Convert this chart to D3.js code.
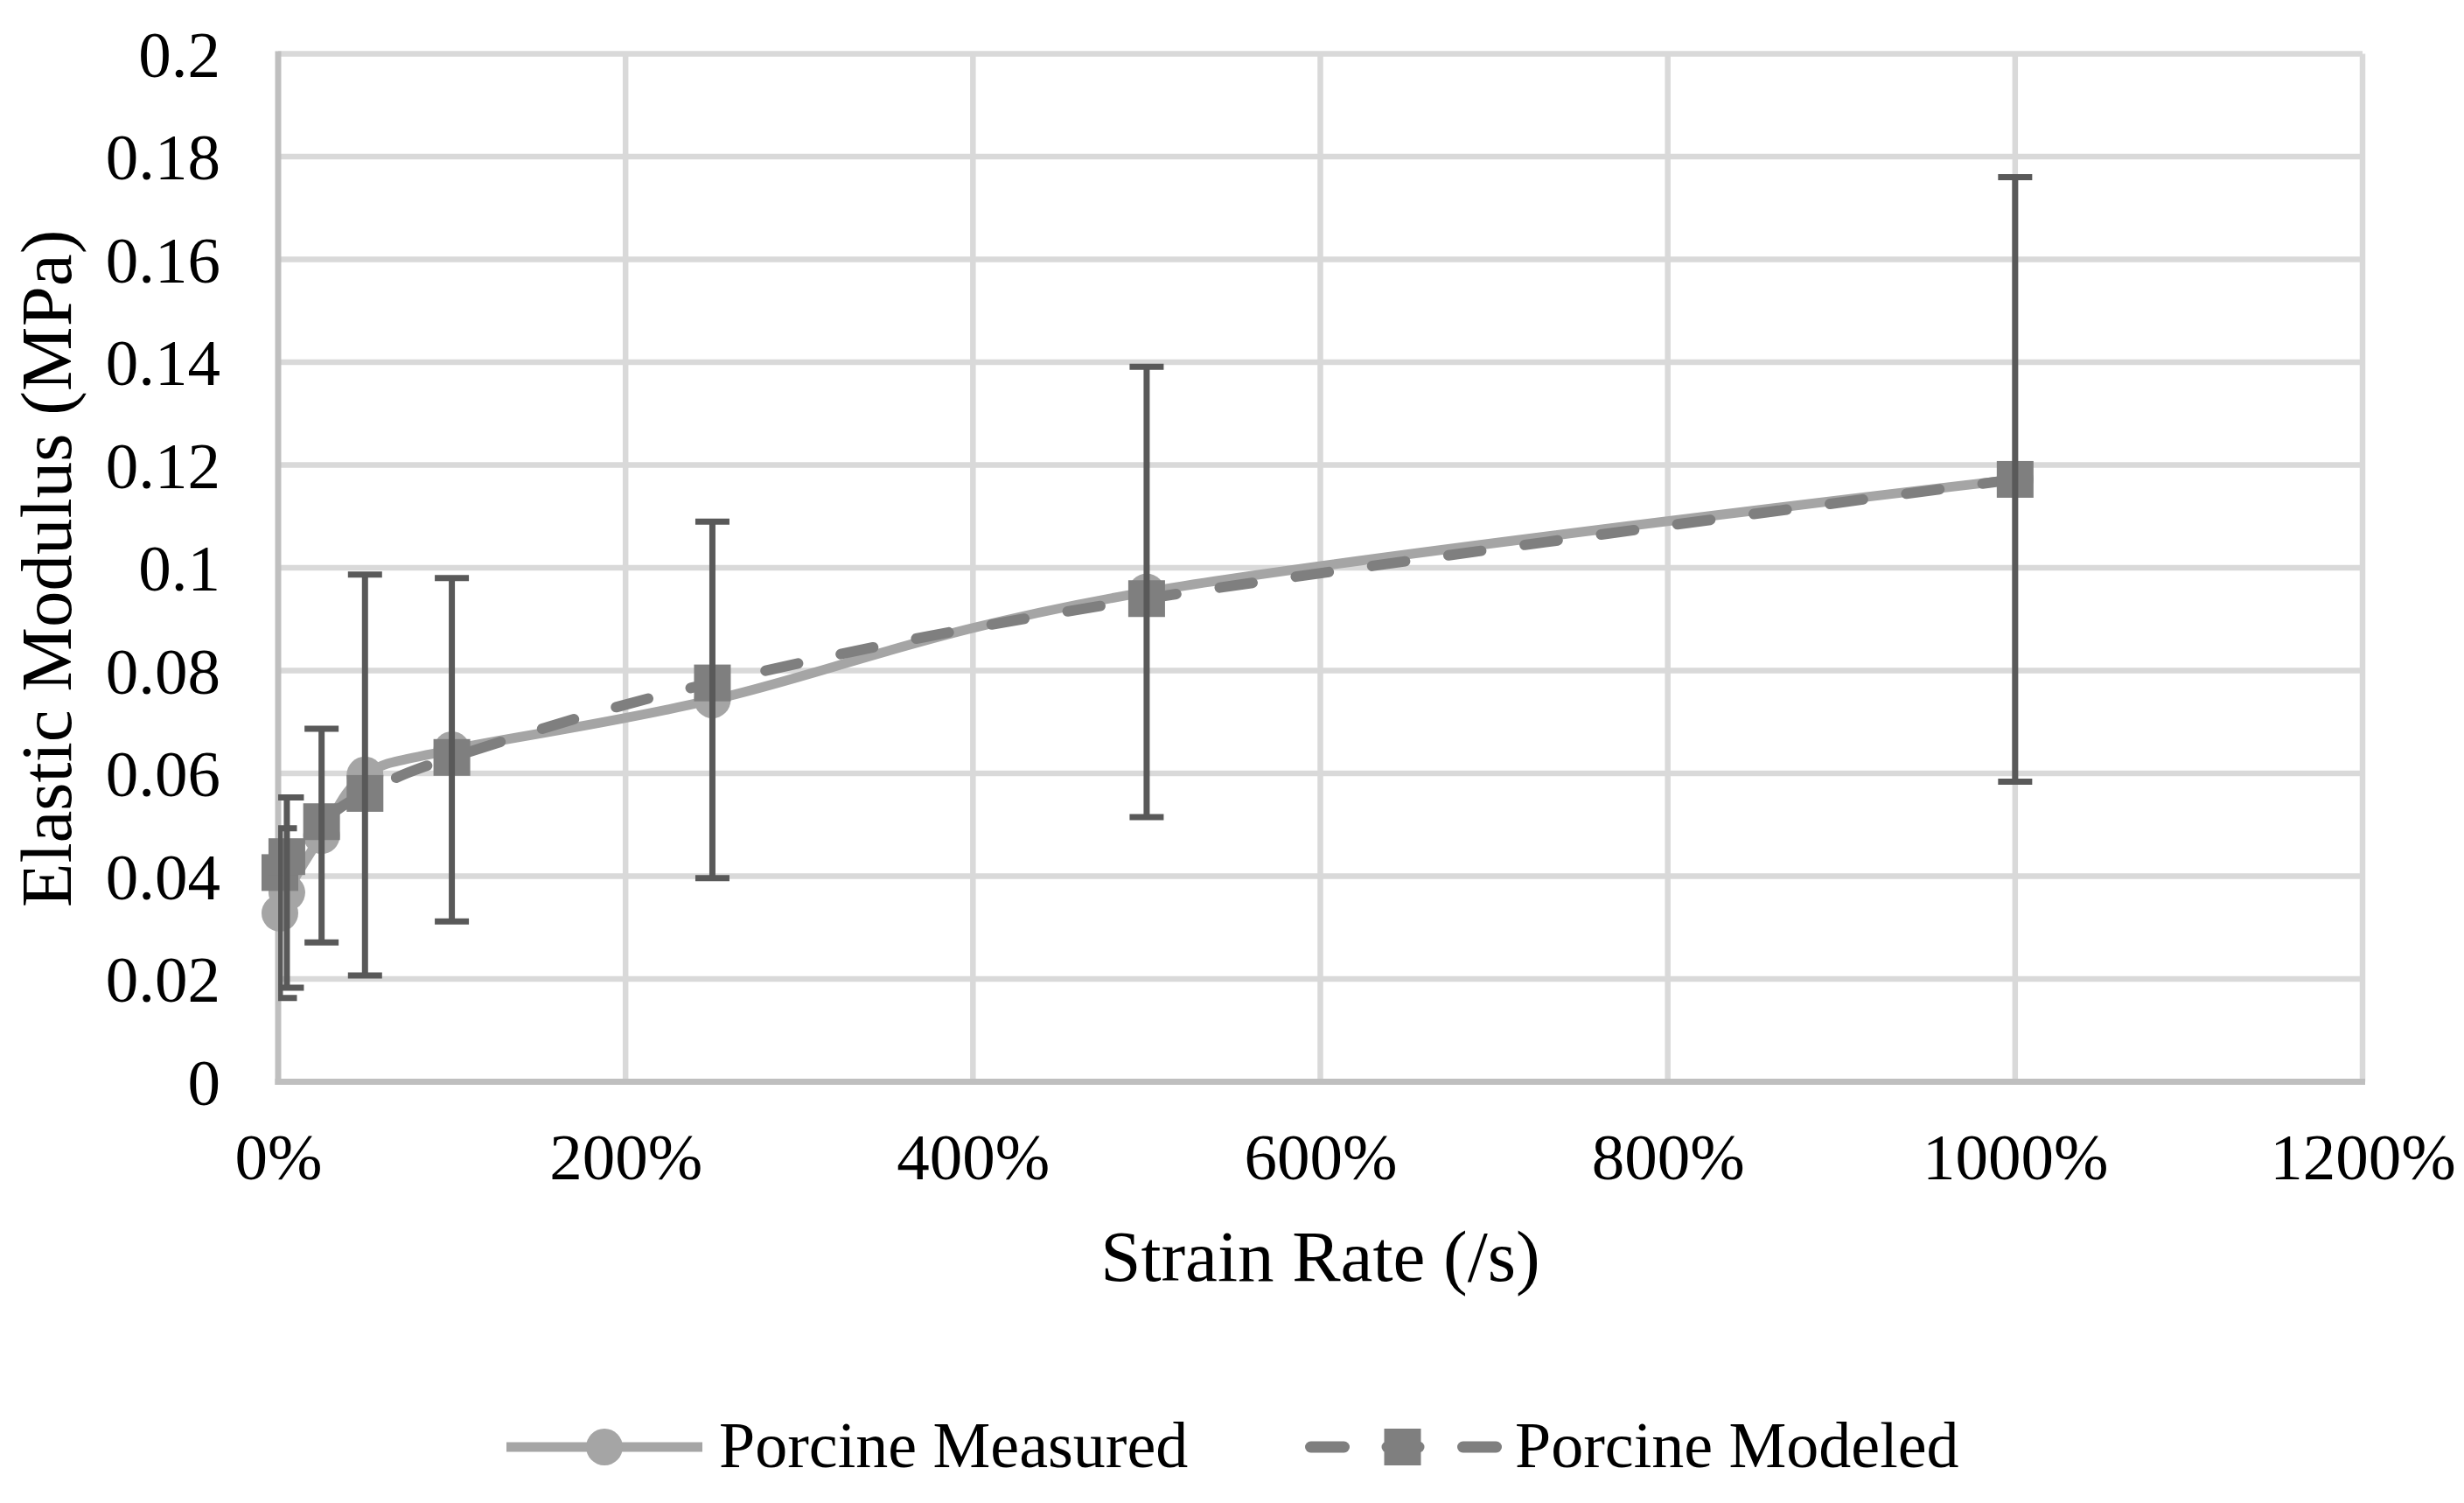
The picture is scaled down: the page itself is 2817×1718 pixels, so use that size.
<!DOCTYPE html>
<html>
<head>
<meta charset="utf-8">
<script src="https://cdn.jsdelivr.net/npm/d3@7"></script>
<style>
    body { margin: 0; background: #fff; }
    text { font-family: "Liberation Serif", "Times New Roman", serif; fill: #000; }
</style>
</head>
<body>
<svg id="chart" width="2817" height="1718"></svg>
<script>
// strain rate in percent (/s * 100)
const strainRates = [1, 5, 25, 50, 100, 250, 500, 1000];
const measuredValues = [0.0328, 0.0368, 0.0479, 0.0597, 0.0646, 0.0743, 0.0953, 0.1172];
const measuredErrors = [0.0165, 0.0185, 0.0208, 0.0390, 0.0334, 0.0347, 0.0438, 0.0588];
const modeledValues = [0.0407, 0.0438, 0.0506, 0.0561, 0.0631, 0.0776, 0.0940, 0.1172];
const xTicks = [0, 200, 400, 600, 800, 1000, 1200];
const yTicks = [0, 0.02, 0.04, 0.06, 0.08, 0.1, 0.12, 0.14, 0.16, 0.18, 0.2];
const seriesNames = ["Porcine Measured", "Porcine Modeled"];

const svg = d3.select("#chart");
const width = +svg.attr("width");
const height = +svg.attr("height");

const margin = { top: 61.5, right: 116, bottom: 481.5, left: 318 };
const innerWidth = width - margin.left - margin.right;
const innerHeight = height - margin.top - margin.bottom;

const x = d3.scaleLinear().domain([0, 1200]).range([0, innerWidth]);
const y = d3.scaleLinear().domain([0, 0.2]).range([innerHeight, 0]);

const g = svg.append("g").attr("transform", `translate(${margin.left},${margin.top})`);

svg.append("defs").append("clipPath").attr("id", "plotClip")
    .append("rect").attr("x", margin.left).attr("y", 0).attr("width", innerWidth + 10).attr("height", height);

// gridlines
g.selectAll(".hgrid").data(yTicks.slice(1)).enter().append("line")
    .attr("x1", 0).attr("x2", innerWidth)
    .attr("y1", d => y(d)).attr("y2", d => y(d))
    .attr("stroke", "#d9d9d9").attr("stroke-width", 6.5);

g.selectAll(".vgrid").data(xTicks.slice(1)).enter().append("line")
    .attr("x1", d => x(d)).attr("x2", d => x(d))
    .attr("y1", 0).attr("y2", innerHeight)
    .attr("stroke", "#d9d9d9").attr("stroke-width", 6.5);

// axis lines
g.append("line").attr("x1", 0).attr("x2", 0).attr("y1", -3).attr("y2", innerHeight + 3.5)
    .attr("stroke", "#bfbfbf").attr("stroke-width", 7);
g.append("line").attr("x1", -3.5).attr("x2", innerWidth + 3).attr("y1", innerHeight).attr("y2", innerHeight)
    .attr("stroke", "#bfbfbf").attr("stroke-width", 7);

// tick labels
const xAxis = d3.axisBottom(x).tickValues(xTicks).tickSize(0).tickPadding(0).tickFormat(d => d + "%");
const yAxis = d3.axisLeft(y).tickValues(yTicks).tickSize(0).tickPadding(0).tickFormat(d => +d.toFixed(2));

const xAxisG = g.append("g").attr("transform", `translate(0,${innerHeight})`).call(xAxis)
    .attr("font-size", 75).attr("font-family", "Liberation Serif");
xAxisG.select(".domain").remove();
xAxisG.selectAll("text").attr("fill", "#000").attr("dy", null).attr("y", 111.5);

const yAxisG = g.append("g").call(yAxis)
    .attr("font-size", 75).attr("font-family", "Liberation Serif");
yAxisG.select(".domain").remove();
yAxisG.selectAll("text").attr("fill", "#000").attr("x", -66).attr("dy", "0.34em");

// axis titles
svg.append("text")
    .attr("x", margin.left + innerWidth / 2).attr("y", 1464)
    .attr("text-anchor", "middle").attr("font-size", 83)
    .text("Strain Rate (/s)");

svg.append("text")
    .attr("transform", "translate(81,650) rotate(-90)")
    .attr("text-anchor", "middle").attr("font-size", 83)
    .text("Elastic Modulus (MPa)");

const measuredData = strainRates.map((r, i) => ({ x: r, y: measuredValues[i], err: measuredErrors[i] }));
const modeledData = strainRates.map((r, i) => ({ x: r, y: modeledValues[i] }));

// error bars on measured series
const errG = svg.append("g").attr("clip-path", "url(#plotClip)")
    .append("g").attr("transform", `translate(${margin.left},${margin.top})`);
const capHalf = 19.5;
errG.selectAll(".stem").data(measuredData).enter().append("line")
    .attr("x1", d => x(d.x)).attr("x2", d => x(d.x))
    .attr("y1", d => y(d.y + d.err)).attr("y2", d => y(d.y - d.err))
    .attr("stroke", "#595959").attr("stroke-width", 7);
errG.selectAll(".capTop").data(measuredData).enter().append("line")
    .attr("x1", d => x(d.x) - capHalf).attr("x2", d => x(d.x) + capHalf)
    .attr("y1", d => y(d.y + d.err)).attr("y2", d => y(d.y + d.err))
    .attr("stroke", "#595959").attr("stroke-width", 7);
errG.selectAll(".capBot").data(measuredData).enter().append("line")
    .attr("x1", d => x(d.x) - capHalf).attr("x2", d => x(d.x) + capHalf)
    .attr("y1", d => y(d.y - d.err)).attr("y2", d => y(d.y - d.err))
    .attr("stroke", "#595959").attr("stroke-width", 7);

const line = d3.line().x(d => x(d.x)).y(d => y(d.y)).curve(d3.curveCardinal.tension(0));

// measured
g.append("path").datum(measuredData).attr("d", line)
    .attr("fill", "none").attr("stroke", "#a5a5a5").attr("stroke-width", 11).attr("stroke-linejoin", "round");
g.selectAll(".circ").data(measuredData).enter().append("circle")
    .attr("cx", d => x(d.x)).attr("cy", d => y(d.y)).attr("r", 21).attr("fill", "#a5a5a5");

// modeled
g.append("path").datum(modeledData).attr("d", line)
    .attr("fill", "none").attr("stroke", "#7f7f7f").attr("stroke-width", 12)
    .attr("stroke-dasharray", "38,50").attr("stroke-linecap", "round");
const sq = 42;
g.selectAll(".sq").data(modeledData).enter().append("rect")
    .attr("x", d => x(d.x) - sq / 2).attr("y", d => y(d.y) - sq / 2)
    .attr("width", sq).attr("height", sq).attr("fill", "#7f7f7f");

// legend
const legendY = 1654;
const leg = svg.append("g");
leg.append("line").attr("x1", 579).attr("x2", 803).attr("y1", legendY).attr("y2", legendY)
    .attr("stroke", "#a5a5a5").attr("stroke-width", 11);
leg.append("circle").attr("cx", 691).attr("cy", legendY).attr("r", 21).attr("fill", "#a5a5a5");
leg.append("text").attr("x", 822).attr("y", legendY + 23).attr("font-size", 74).text(seriesNames[0]);

[1517.5, 1691.5].forEach(cx => {
    leg.append("line").attr("x1", cx - 19).attr("x2", cx + 19).attr("y1", legendY).attr("y2", legendY)
        .attr("stroke", "#7f7f7f").attr("stroke-width", 13).attr("stroke-linecap", "round");
});
leg.append("line").attr("x1", 1586).attr("x2", 1622).attr("y1", legendY).attr("y2", legendY)
    .attr("stroke", "#7f7f7f").attr("stroke-width", 13).attr("stroke-linecap", "round");
leg.append("rect").attr("x", 1603.5 - sq / 2).attr("y", legendY - sq / 2).attr("width", sq).attr("height", sq).attr("fill", "#7f7f7f");
leg.append("text").attr("x", 1732).attr("y", legendY + 23).attr("font-size", 74).text(seriesNames[1]);
</script>
</body>
</html>
